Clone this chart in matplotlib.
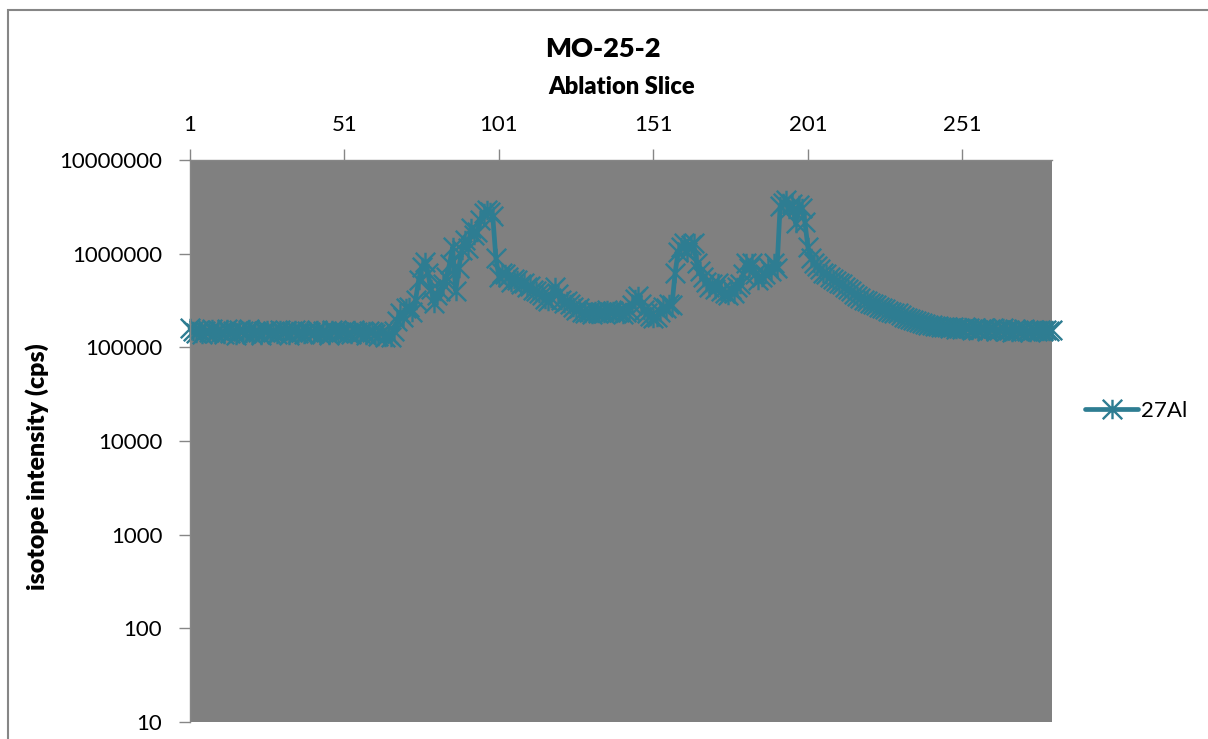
import numpy as np
import matplotlib
matplotlib.use("Agg")
import matplotlib.pyplot as plt
from matplotlib.path import Path
from matplotlib.patches import Rectangle

plt.rcParams['font.family'] = ['Lato', 'DejaVu Sans']

# ---- data: 27Al intensity per ablation slice, in kcps ----
al27_kcps = [
    # slices 1-66, background
    160, 148, 142, 155, 138, 150, 146, 158, 141, 152,
    147, 139, 156, 144, 150, 137, 153, 149, 143, 157,
    140, 151, 146, 135, 149, 154, 141, 147, 138, 152,
    145, 150, 136, 148, 155, 142, 146, 139, 151, 147,
    143, 153, 140, 148, 145, 137, 152, 149, 141, 146,
    150, 144, 138, 153, 147, 142, 148, 136, 151, 145,
    140, 133, 147, 130, 138, 128,
    # slices 67-100, first peak
    150, 190, 235, 210, 260, 270, 240, 320, 520, 720,
    810, 620, 420, 300, 360, 400, 470, 560, 780, 1170,
    400, 700, 1100, 1400, 1150, 1900, 1600, 1700, 2300, 2700,
    2900, 2800, 2500, 900,
    # slices 101-158
    560, 620, 600, 560, 500, 540, 520, 470, 490, 440,
    450, 410, 400, 380, 360, 330, 310, 340, 440, 370,
    320, 300, 310, 290, 270, 250, 260, 240, 235, 240,
    228, 245, 235, 240, 230, 250, 236, 244, 232, 240,
    226, 238, 250, 280, 330, 350, 290, 250, 230, 215,
    205, 210, 240, 270, 260, 290, 280, 620,
    # slices 159-203
    1050, 1170, 1300, 1050, 1250, 1300, 790, 650, 560, 500,
    440, 470, 420, 490, 400, 380, 360, 420, 380, 440,
    470, 600, 790, 700, 790, 600, 520, 560, 600, 720,
    650, 790, 700, 3200, 3500, 3700, 3000, 3400, 2100, 3300,
    3100, 2200, 1170, 900, 790,
    # slices 204-280, tail
    740, 680, 620, 600, 560, 540, 510, 490, 470, 440,
    420, 400, 370, 350, 340, 320, 310, 300, 290, 280,
    270, 265, 255, 245, 240, 235, 230, 220, 212, 205,
    200, 195, 192, 185, 182, 178, 175, 172, 170, 168,
    165, 163, 166, 160, 164, 158, 162, 157, 165, 160,
    155, 162, 152, 158, 160, 150, 156, 159, 148, 155,
    161, 150, 154, 147, 158, 152, 149, 156, 151, 146,
    155, 150, 153, 148, 152, 150, 155,
]
al27 = np.array(al27_kcps) * 1000.0
slices = np.arange(1, len(al27) + 1)

x_ticks = [1, 51, 101, 151, 201, 251]
y_ticks = [10, 100, 1000, 10000, 100000, 1000000, 10000000]
y_labels = [str(v) for v in y_ticks]

C_LINE = "#2E7D92"
C_AXIS = "#868686"

# excel-style star marker: X plus a vertical bar
star = Path([(0, -1), (0, 1), (-1, -1), (1, 1), (-1, 1), (1, -1)],
            [Path.MOVETO, Path.LINETO, Path.MOVETO, Path.LINETO, Path.MOVETO, Path.LINETO])

W, H = 1208, 739
fig = plt.figure(figsize=(W / 100, H / 100), dpi=100)
fig.patches.append(Rectangle((8 / W, -0.1), 1.2, 1.1 - 10 / H, transform=fig.transFigure,
                             fill=False, edgecolor=C_AXIS, lw=1.5))

ax = fig.add_axes([190 / W, 1 - 722 / H, 862 / W, 562 / H])
ax.set_facecolor("#808080")
ax.plot(slices, al27, color=C_LINE, lw=3.4, marker=star, ms=14, mew=1.7,
        mec=C_LINE, clip_on=False, solid_joinstyle="round", solid_capstyle="round",
        label="27Al")

ax.set_yscale("log")
ax.set_ylim(10, 1e7)
ax.set_xlim(1, len(al27))
ax.set_yticks(y_ticks)
ax.set_yticklabels(y_labels)
ax.yaxis.set_minor_locator(matplotlib.ticker.NullLocator())
ax.set_xticks(x_ticks)
ax.set_xticklabels([str(t) for t in x_ticks])
ax.xaxis.tick_top()
ax.tick_params(axis="both", which="major", direction="out", length=8, width=1,
               color=C_AXIS, labelsize=16, labelcolor="black")
ax.tick_params(axis="x", pad=10)
ax.tick_params(axis="y", pad=12)
for s in ["right", "bottom"]:
    ax.spines[s].set_visible(False)
for s in ["left", "top"]:
    ax.spines[s].set_color(C_AXIS)
    ax.spines[s].set_linewidth(1)

fig.text(37 / W, 1 - 467 / H, "isotope intensity (cps)", fontsize=18, fontweight="heavy",
         rotation=90, ha="center", va="center")
fig.text(603 / W, 1 - 49 / H, "MO-25-2", fontsize=19.5, fontweight="heavy", ha="center", va="center")
fig.text(622 / W, 1 - 87 / H, "Ablation Slice", fontsize=17, fontweight="heavy", ha="center", va="center")

ax.legend(loc="center left", bbox_to_anchor=(1085 / W, 1 - 411 / H), bbox_transform=fig.transFigure,
          frameon=False, fontsize=16, handlelength=2.4, handletextpad=0.1,
          borderpad=0, borderaxespad=0)

fig.savefig("out.png", dpi=100)
